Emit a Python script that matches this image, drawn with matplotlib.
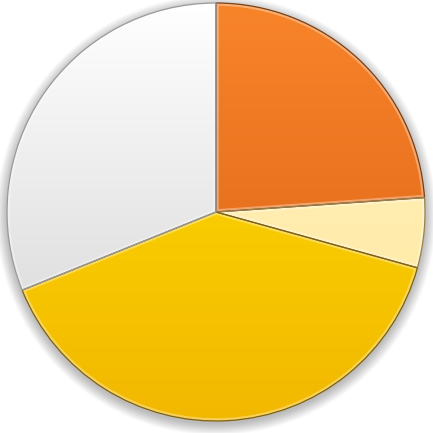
import numpy as np
import matplotlib
matplotlib.use("Agg")
import matplotlib.pyplot as plt
from matplotlib.colors import LinearSegmentedColormap
from matplotlib.patches import Circle, Wedge

# parts du camembert (sens horaire depuis midi)
values = [23.9, 5.4, 39.6, 31.1]
top_colors = ["#F8842A", "#FFF4C4", "#FFE000", "#FFFFFF"]
bottom_colors = ["#DA6014", "#FFE69A", "#F2B800", "#D2D2D2"]
edge_colors = ["#7A4012", "#9A8048", "#806010", "#9A9A9A"]

W = H = 433
cx, cy, R = 216, 212, 209

fig = plt.figure(figsize=(W / 100, H / 100), dpi=100)
ax = fig.add_axes([0, 0, 1, 1])

# ombre douce
for i in range(14):
    ax.add_patch(Circle((0.0, -0.015), 1.0 + 0.004 * i, color="black",
                        alpha=0.02, lw=0, zorder=0))

wedges, _ = ax.pie(values, startangle=90, counterclock=False, radius=1.0,
                   center=(0, 0), colors=top_colors,
                   wedgeprops=dict(linewidth=0.9, zorder=2))

grad = np.linspace(1, 0, 256).reshape(-1, 1)
for w, c1, c2, ec in zip(wedges, top_colors, bottom_colors, edge_colors):
    w.set_edgecolor(ec)
    cmap = LinearSegmentedColormap.from_list("g", [c2, c1])
    im = ax.imshow(grad, cmap=cmap, extent=[-1, 1, -1, 1], origin="upper",
                   aspect="auto", zorder=1.5, interpolation="bilinear")
    im.set_clip_path(w)
    w.set_facecolor("none")
    # petit biseau clair a l'interieur
    hl = Wedge(w.center, w.r, w.theta1, w.theta2, facecolor="none",
               edgecolor="white", alpha=0.35, lw=4, zorder=1.8)
    ax.add_patch(hl)
    hl.set_clip_path(w)

ax.set_xlim(-cx / R, (W - cx) / R)
ax.set_ylim(-(H - cy) / R, cy / R)
ax.set_aspect("equal")
ax.axis("off")

fig.savefig("out.png", dpi=100)
